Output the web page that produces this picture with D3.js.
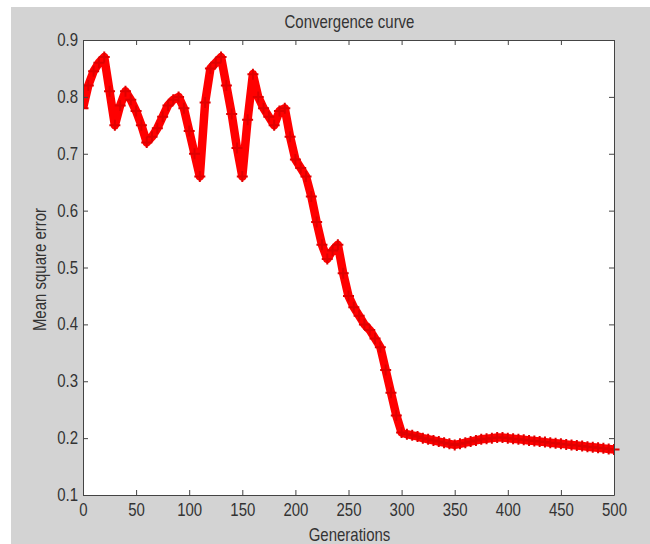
<!DOCTYPE html>
<html lang="en">
<head>
    <meta charset="UTF-8">
    <title>Convergence curve</title>
    <script src="https://cdn.jsdelivr.net/npm/d3@7"></script>
    <style>
        body { margin: 0; background: #fff; }
        text { font-family: "Liberation Sans", Arial, sans-serif; fill: #333; }
    </style>
</head>
<body>
<svg width="650" height="544"></svg>
<script>

    const step = 5
    const mse = [
        0.78, 0.82, 0.845, 0.86, 0.87, 0.81, 0.75, 0.785, 0.81, 0.795,
        0.775, 0.75, 0.72, 0.73, 0.745, 0.765, 0.785, 0.795, 0.80, 0.78,
        0.74, 0.70, 0.66, 0.79, 0.85, 0.86, 0.87, 0.82, 0.77, 0.71,
        0.66, 0.76, 0.84, 0.80, 0.78, 0.765, 0.75, 0.775, 0.78, 0.73,
        0.69, 0.675, 0.66, 0.625, 0.58, 0.54, 0.515, 0.53, 0.54, 0.49,
        0.45, 0.43, 0.415, 0.40, 0.39, 0.375, 0.36, 0.32, 0.28, 0.24,
        0.21, 0.207, 0.205, 0.203, 0.20, 0.198, 0.196, 0.194, 0.192, 0.19,
        0.188, 0.19, 0.192, 0.194, 0.196, 0.198, 0.199, 0.20, 0.201, 0.201,
        0.20, 0.199, 0.198, 0.197, 0.196, 0.195, 0.194, 0.193, 0.192, 0.191,
        0.19, 0.189, 0.188, 0.187, 0.186, 0.185, 0.184, 0.183, 0.182, 0.181,
        0.18
    ]
    const xTicks = [0, 50, 100, 150, 200, 250, 300, 350, 400, 450, 500]
    const yTicks = [0.1, 0.2, 0.3, 0.4, 0.5, 0.6, 0.7, 0.8, 0.9]
    const title = "Convergence curve"
    const xLabel = "Generations"
    const yLabel = "Mean square error"

    const plot = {left: 83, right: 614, top: 40, bottom: 495}
    const svg = d3.select("svg")

    // grey figure background
    svg.append("rect")
        .attr("x", 11).attr("y", 7)
        .attr("width", 650 - 11).attr("height", 544 - 7)
        .attr("fill", "#d3d3d3")

    svg.append("rect")
        .attr("x", plot.left).attr("y", plot.top)
        .attr("width", plot.right - plot.left).attr("height", plot.bottom - plot.top)
        .attr("fill", "#fff")

    const x = d3.scaleLinear().domain([0, 500]).range([plot.left, plot.right])
    const y = d3.scaleLinear().domain([0.1, 0.9]).range([plot.bottom, plot.top])

    const data = mse.map((v, i) => ({g: i * step, v: v}))

    // curve
    svg.append("clipPath").attr("id", "clip")
        .append("rect")
        .attr("x", plot.left).attr("y", plot.top - 6)
        .attr("width", plot.right - plot.left + 6).attr("height", plot.bottom - plot.top + 6)

    const curve = svg.append("g").attr("clip-path", "url(#clip)")
    curve.append("path")
        .datum(data)
        .attr("d", d3.line().x(d => x(d.g)).y(d => y(d.v)))
        .attr("fill", "none")
        .attr("stroke", "#f00")
        .attr("stroke-width", 8.5)
        .attr("stroke-linejoin", "round")

    const plus = "M-5.5,0H5.5M0,-5.5V5.5"
    curve.selectAll(".mark")
        .data(data)
        .enter()
        .append("path")
        .attr("class", "mark")
        .attr("transform", d => `translate(${x(d.g)},${y(d.v)})`)
        .attr("d", plus)
        .attr("stroke", "#e00000")
        .attr("stroke-width", 2)

    // axes: ticks inside, on all four sides
    const axisColor = "#444"
    const tick = 5
    function styleAxis(g) {
        g.select(".domain").attr("stroke", axisColor)
        g.selectAll(".tick line").attr("stroke", axisColor)
        g.selectAll("text")
            .attr("font-size", 15)
            .attr("fill", "#333")
            .attr("font-family", '"Liberation Sans", Arial, sans-serif')
    }

    svg.append("g")
        .attr("transform", `translate(0,${plot.bottom})`)
        .call(d3.axisBottom(x).tickValues(xTicks).tickSizeInner(-tick).tickSizeOuter(0).tickPadding(0))
        .call(styleAxis)
        .call(g => g.selectAll("text").attr("y", 0).attr("dy", 0)
            .attr("transform", "translate(0,21) scale(1,1.2)"))

    svg.append("g")
        .attr("transform", `translate(0,${plot.top})`)
        .call(d3.axisTop(x).tickValues(xTicks).tickSizeInner(-tick).tickSizeOuter(0).tickFormat(""))
        .call(styleAxis)

    svg.append("g")
        .attr("transform", `translate(${plot.left},0)`)
        .call(d3.axisLeft(y).tickValues(yTicks).tickSizeInner(-tick).tickSizeOuter(0)
            .tickFormat(d3.format(".1f")))
        .call(styleAxis)
        .call(g => g.selectAll("text").attr("x", 0).attr("dy", 0)
            .attr("transform", "translate(-5,5.5) scale(1,1.2)"))

    svg.append("g")
        .attr("transform", `translate(${plot.right},0)`)
        .call(d3.axisRight(y).tickValues(yTicks).tickSizeInner(-tick).tickSizeOuter(0).tickFormat(""))
        .call(styleAxis)

    // labels
    svg.append("text")
        .attr("transform", `translate(${(plot.left + plot.right) / 2 + 1},28) scale(1,1.2)`)
        .attr("text-anchor", "middle")
        .attr("font-size", 15)
        .text(title)

    svg.append("text")
        .attr("transform", `translate(${(plot.left + plot.right) / 2 + 1},541) scale(1,1.2)`)
        .attr("text-anchor", "middle")
        .attr("font-size", 15)
        .text(xLabel)

    svg.append("text")
        .attr("transform", `translate(46,${(plot.top + plot.bottom) / 2 + 2}) rotate(-90) scale(1,1.2)`)
        .attr("text-anchor", "middle")
        .attr("font-size", 15)
        .text(yLabel)

</script>
</body>
</html>
